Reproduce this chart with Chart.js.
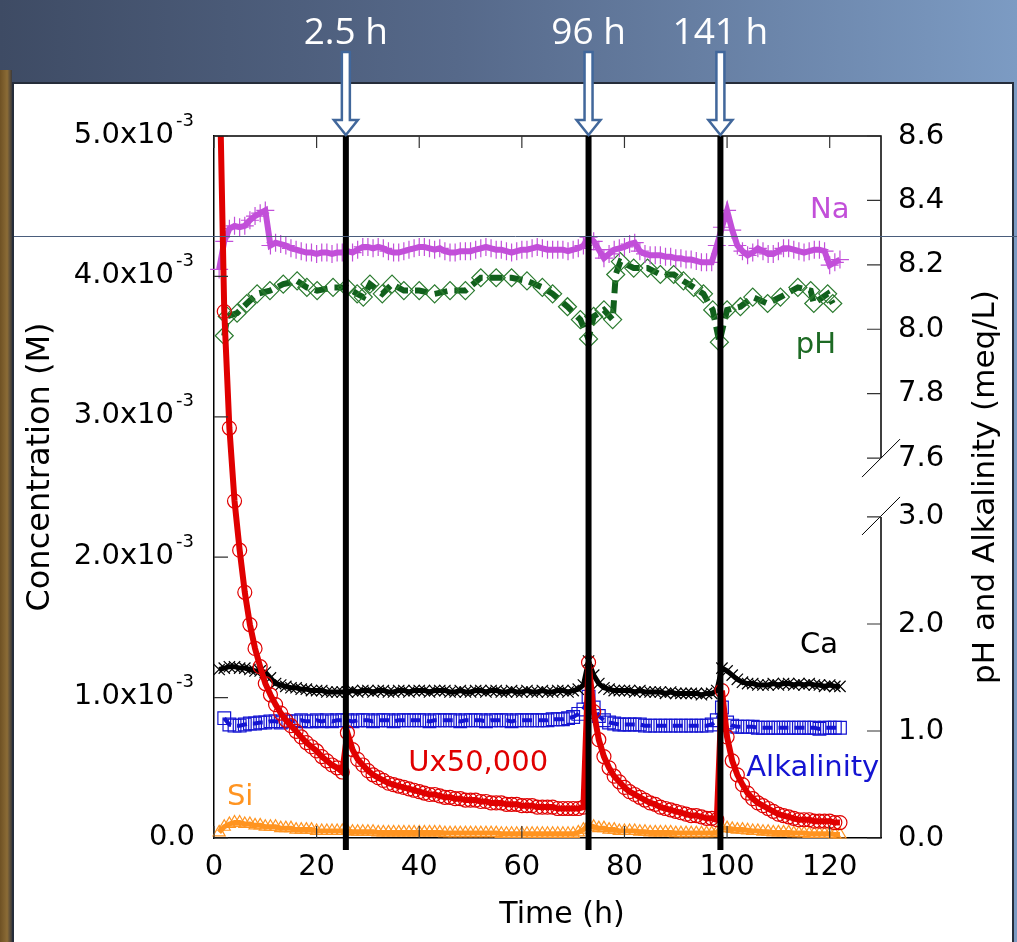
<!DOCTYPE html>
<html>
<head>
<meta charset="utf-8">
<title>Leaching run</title>
<script src="https://cdn.jsdelivr.net/npm/chart.js@4.4.1/dist/chart.umd.min.js"></script>
<style>
  html, body { margin: 0; padding: 0; background: #4a5a78; }
  canvas { display: block; }
</style>
</head>
<body>
<canvas id="leach-chart" width="1017" height="942"></canvas>
<script>
// Axis ticks
var hourTicks = [0, 20, 40, 60, 80, 100, 120];
var concTicks = [0, 1, 2, 3, 4, 5];                        // mM (x10^-3 M)
var rightTicks = [0.0, 1.0, 2.0, 3.0, 7.6, 7.8, 8.0, 8.2, 8.4, 8.6];

// Events marked with arrows
var eventHours = [25.7, 73.0, 98.7];
var eventLabels = ['2.5 h', '96 h', '141 h'];

// Hourly sampling times shared by the concentration series
var hours = [1, 2, 3, 4, 5, 6, 7, 8, 9, 10, 11, 12, 13, 14, 15, 16, 17, 18, 19, 20,
  21, 22, 23, 24, 25, 26, 27, 28, 29, 30, 31, 32, 33, 34, 35, 36, 37, 38, 39, 40,
  41, 42, 43, 44, 45, 46, 47, 48, 49, 50, 51, 52, 53, 54, 55, 56, 57, 58, 59, 60,
  61, 62, 63, 64, 65, 66, 67, 68, 69, 70, 71, 72, 73, 74, 75, 76, 77, 78, 79, 80,
  81, 82, 83, 84, 85, 86, 87, 88, 89, 90, 91, 92, 93, 94, 95, 96, 97, 98, 99, 100,
  101, 102, 103, 104, 105, 106, 107, 108, 109, 110, 111, 112, 113, 114, 115, 116, 117, 118, 119, 120,
  121, 122];

// U x 50,000 (mM)
var uValues = [5.6, 3.75, 2.92, 2.40, 2.05, 1.75, 1.52, 1.35, 1.22, 1.10, 1.02, 0.95, 0.89, 0.84, 0.80, 0.76, 0.72, 0.68, 0.65, 0.62,
  0.58, 0.55, 0.52, 0.50, 0.47, 0.75, 0.63, 0.56, 0.52, 0.48, 0.45, 0.43, 0.41, 0.39, 0.38, 0.37, 0.36, 0.35, 0.34, 0.33,
  0.32, 0.31, 0.31, 0.30, 0.29, 0.29, 0.28, 0.28, 0.27, 0.27, 0.27, 0.26, 0.26, 0.25, 0.25, 0.25, 0.24, 0.24, 0.24, 0.23,
  0.23, 0.23, 0.22, 0.22, 0.22, 0.22, 0.21, 0.21, 0.21, 0.21, 0.21, 0.22, 1.25, 0.90, 0.70, 0.58, 0.50, 0.44, 0.40, 0.36,
  0.33, 0.31, 0.29, 0.27, 0.25, 0.24, 0.22, 0.21, 0.20, 0.19, 0.18, 0.17, 0.16, 0.16, 0.15, 0.14, 0.14, 0.13, 1.05, 0.72,
  0.55, 0.45, 0.38, 0.32, 0.28, 0.25, 0.23, 0.21, 0.19, 0.17, 0.16, 0.15, 0.14, 0.13, 0.13, 0.13, 0.12, 0.12, 0.12, 0.12,
  0.11, 0.11];

// Na (mM)
var naValues = [4.05, 4.25, 4.34, 4.36, 4.35, 4.36, 4.40, 4.43, 4.45, 4.47, 4.22, 4.24, 4.23, 4.22, 4.20, 4.19, 4.18, 4.17, 4.17, 4.16,
  4.17, 4.17, 4.16, 4.17, 4.17, 4.18, 4.17, 4.19, 4.21, 4.21, 4.20, 4.21, 4.20, 4.18, 4.17, 4.17, 4.18, 4.19, 4.20, 4.21,
  4.21, 4.20, 4.19, 4.20, 4.18, 4.17, 4.17, 4.18, 4.18, 4.18, 4.19, 4.20, 4.21, 4.20, 4.19, 4.19, 4.18, 4.17, 4.18, 4.19,
  4.19, 4.20, 4.21, 4.20, 4.19, 4.19, 4.19, 4.19, 4.18, 4.19, 4.20, 4.22, 4.28, 4.25, 4.19, 4.13, 4.16, 4.19, 4.20, 4.21,
  4.23, 4.24, 4.18, 4.16, 4.15, 4.15, 4.15, 4.14, 4.14, 4.13, 4.13, 4.12, 4.12, 4.11, 4.10, 4.10, 4.10, 4.22, 4.35, 4.47,
  4.33, 4.22, 4.18, 4.15, 4.17, 4.20, 4.18, 4.16, 4.16, 4.18, 4.20, 4.20, 4.19, 4.18, 4.17, 4.18, 4.19, 4.19, 4.18, 4.08,
  4.10, 4.12];

// Ca (mM)
var caValues = [1.20, 1.21, 1.22, 1.22, 1.21, 1.21, 1.20, 1.19, 1.19, 1.18, 1.14, 1.10, 1.09, 1.08, 1.07, 1.07, 1.06, 1.06, 1.05, 1.05,
  1.05, 1.04, 1.04, 1.04, 1.04, 1.04, 1.05, 1.04, 1.05, 1.05, 1.04, 1.05, 1.05, 1.04, 1.04, 1.05, 1.05, 1.04, 1.05, 1.05,
  1.05, 1.04, 1.05, 1.05, 1.05, 1.04, 1.04, 1.05, 1.04, 1.04, 1.05, 1.05, 1.04, 1.05, 1.05, 1.04, 1.04, 1.05, 1.04, 1.04,
  1.05, 1.04, 1.04, 1.05, 1.04, 1.04, 1.05, 1.05, 1.04, 1.05, 1.06, 1.09, 1.26, 1.16, 1.10, 1.07, 1.06, 1.05, 1.05, 1.05,
  1.05, 1.04, 1.05, 1.04, 1.04, 1.04, 1.04, 1.03, 1.04, 1.03, 1.03, 1.03, 1.03, 1.03, 1.02, 1.03, 1.03, 1.05, 1.21, 1.19,
  1.16, 1.13, 1.11, 1.10, 1.10, 1.09, 1.09, 1.09, 1.10, 1.09, 1.10, 1.10, 1.09, 1.10, 1.09, 1.10, 1.09, 1.09, 1.08, 1.09,
  1.08, 1.08];

// Alkalinity (meq/L)
var alkValues = [null, 1.12, 1.06, 1.05, 1.05, 1.06, 1.07, 1.07, 1.08, 1.08, 1.09, 1.09, 1.08, 1.09, 1.09, 1.09, 1.10, 1.09, 1.09, 1.10,
  1.09, 1.10, 1.09, 1.10, 1.10, 1.10, 1.09, 1.10, 1.10, 1.10, 1.09, 1.10, 1.10, 1.10, 1.09, 1.10, 1.10, 1.10, 1.10, 1.10,
  1.10, 1.09, 1.10, 1.10, 1.10, 1.10, 1.10, 1.09, 1.10, 1.10, 1.10, 1.10, 1.09, 1.10, 1.10, 1.10, 1.10, 1.09, 1.10, 1.10,
  1.10, 1.10, 1.10, 1.10, 1.10, 1.11, 1.11, 1.11, 1.12, 1.13, 1.16, 1.20, 1.32, 1.22, 1.14, 1.10, 1.08, 1.07, 1.06, 1.06,
  1.06, 1.06, 1.06, 1.05, 1.05, 1.05, 1.05, 1.05, 1.05, 1.05, 1.05, 1.05, 1.05, 1.05, 1.05, 1.05, 1.06, 1.10, 1.22, 1.08,
  1.05, 1.04, 1.04, 1.04, 1.04, 1.03, 1.03, 1.03, 1.03, 1.03, 1.03, 1.03, 1.03, 1.03, 1.03, 1.03, 1.03, 1.02, 1.03, 1.03,
  1.03, 1.03];

// Si (mM)
var siValues = [0.04, 0.08, 0.10, 0.11, 0.11, 0.10, 0.10, 0.09, 0.09, 0.08, 0.08, 0.08, 0.07, 0.07, 0.07, 0.06, 0.06, 0.06, 0.06, 0.05,
  0.05, 0.05, 0.05, 0.05, 0.05, 0.05, 0.045, 0.045, 0.045, 0.045, 0.045, 0.04, 0.04, 0.04, 0.04, 0.04, 0.04, 0.04, 0.04, 0.04,
  0.04, 0.04, 0.04, 0.04, 0.035, 0.035, 0.035, 0.035, 0.035, 0.035, 0.035, 0.035, 0.035, 0.035, 0.035, 0.03, 0.03, 0.03, 0.03, 0.03,
  0.03, 0.03, 0.03, 0.03, 0.03, 0.03, 0.03, 0.03, 0.03, 0.03, 0.04, 0.06, 0.09, 0.08, 0.07, 0.07, 0.06, 0.06, 0.05, 0.05,
  0.05, 0.05, 0.045, 0.045, 0.04, 0.04, 0.04, 0.04, 0.04, 0.035, 0.035, 0.035, 0.035, 0.035, 0.035, 0.035, 0.035, 0.04, 0.07, 0.07,
  0.065, 0.06, 0.06, 0.055, 0.05, 0.05, 0.045, 0.045, 0.04, 0.04, 0.04, 0.04, 0.035, 0.035, 0.035, 0.03, 0.03, 0.03, 0.03, 0.03,
  0.025, 0.025];

// pH, sampled less often
var phHours = [2.0, 2.6, 4.5, 6.4, 8.4, 10.9, 13.5, 16.2, 18.1, 20.1, 23.2, 25.9, 27.9, 29.1, 30.4, 32.8, 34.7, 37, 40, 43, 46,
  49, 52, 55, 58, 61, 64, 66, 68.9, 71.4, 73, 74, 76, 77.7, 78.3, 79.2, 81.8, 84.5, 87, 89.6, 91.5, 93.5, 95.4, 97.2,
  98.5, 100, 102.6, 105, 107.9, 110.4, 113.8, 116.3, 116.9, 119.6, 120.6];
var phValues = [7.98, 8.04, 8.05, 8.08, 8.11, 8.12, 8.14, 8.15, 8.13, 8.12, 8.13, 8.13, 8.11, 8.10, 8.14, 8.11, 8.14, 8.12, 8.12, 8.11, 8.12,
  8.12, 8.16, 8.16, 8.16, 8.15, 8.13, 8.11, 8.07, 8.03, 7.97, 8.04, 8.06, 8.03, 8.17, 8.21, 8.19, 8.19, 8.17, 8.17, 8.15, 8.13, 8.11, 8.06,
  7.96, 8.06, 8.07, 8.10, 8.08, 8.10, 8.13, 8.12, 8.08, 8.11, 8.08];

// Right axis is broken between 3.0 and 7.6: the pH part is stretched to fit above
var LOW_TOP = 3.0, HIGH_BOTTOM = 7.6, GAP = 0.55, HIGH_STRETCH = 3.01;
function brokenAxis(v) {
  return v <= LOW_TOP ? v : LOW_TOP + GAP + (v - HIGH_BOTTOM) * HIGH_STRETCH;
}

function pairs(xs, ys, f) {
  return xs.map(function (x, i) { return { x: x, y: ys[i] === null ? null : f(ys[i]) }; });
}
function milli(v) { return v / 1000; }

var FONT = 'DejaVu Sans';

// In-plot labels (data coordinates)
var seriesLabels = [
  { text: 'Na', color: '#c24fd9', x: 120, y: 4.47e-3, axis: 'y' },
  { text: 'pH', color: '#1d6a24', x: 117.3, y: brokenAxis(7.95), axis: 'y2' },
  { text: 'Ca', color: '#000000', x: 117.9, y: 1.37e-3, axis: 'y' },
  { text: 'Ux50,000', color: '#e00000', x: 51.5, y: 0.53e-3, axis: 'y' },
  { text: 'Alkalinity', color: '#1414d2', x: 116.7, y: brokenAxis(0.65), axis: 'y2' },
  { text: 'Si', color: '#ff9421', x: 5.1, y: 0.29e-3, axis: 'y' }
];

var slideFrame = {
  id: 'slideFrame',
  beforeDraw: function (chart) {
    var ctx = chart.ctx, w = chart.width, h = chart.height;
    ctx.save();
    var sky = ctx.createLinearGradient(0, 0, w, 0);
    sky.addColorStop(0, '#3e4b64');
    sky.addColorStop(0.45, '#56698a');
    sky.addColorStop(1, '#7c9bc3');
    ctx.fillStyle = sky;
    ctx.fillRect(0, 0, w, h);
    var wood = ctx.createLinearGradient(0, 0, 12, 0);
    wood.addColorStop(0, '#6e5124');
    wood.addColorStop(0.6, '#8c6c36');
    wood.addColorStop(1, '#3c3a3c');
    ctx.fillStyle = wood;
    ctx.fillRect(0, 70, 12, h - 70);
    ctx.fillStyle = '#ffffff';
    ctx.fillRect(14, 83, 998, h - 83);
    ctx.strokeStyle = '#262d3a';
    ctx.lineWidth = 2;
    ctx.strokeRect(13, 83, 1000, h - 81);
    ctx.restore();
  },
  afterDatasetsDraw: function (chart) {
    var ctx = chart.ctx, a = chart.chartArea;
    var xs = chart.scales.x, yl = chart.scales.y, yr = chart.scales.y2;
    ctx.save();

    // top border and the broken right border
    var upperEnd = yr.getPixelForValue(brokenAxis(HIGH_BOTTOM));
    var lowerEnd = yr.getPixelForValue(brokenAxis(LOW_TOP));
    ctx.strokeStyle = '#000';
    ctx.lineWidth = 1.5;
    ctx.beginPath();
    ctx.moveTo(a.left, a.top); ctx.lineTo(a.right, a.top);
    ctx.lineTo(a.right, upperEnd);
    ctx.moveTo(a.right, lowerEnd); ctx.lineTo(a.right, a.bottom);
    ctx.stroke();
    ctx.lineWidth = 1;
    ctx.beginPath();
    ctx.moveTo(a.right - 19, upperEnd + 19); ctx.lineTo(a.right + 19, upperEnd - 19);
    ctx.moveTo(a.right - 19, lowerEnd + 18); ctx.lineTo(a.right + 19, lowerEnd - 20);
    ctx.stroke();

    // inward tick marks
    ctx.strokeStyle = '#333';
    ctx.lineWidth = 1.2;
    ctx.beginPath();
    hourTicks.forEach(function (t) {
      var px = xs.getPixelForValue(t);
      ctx.moveTo(px, a.bottom); ctx.lineTo(px, a.bottom - 12);
      ctx.moveTo(px, a.top); ctx.lineTo(px, a.top + 12);
    });
    concTicks.forEach(function (c) {
      var py = yl.getPixelForValue(milli(c));
      ctx.moveTo(a.left, py); ctx.lineTo(a.left + 14, py);
    });
    rightTicks.forEach(function (v) {
      var py = yr.getPixelForValue(brokenAxis(v));
      ctx.moveTo(a.right, py); ctx.lineTo(a.right - 14, py);
    });
    ctx.stroke();

    // left tick labels with a raised exponent
    ctx.fillStyle = '#000';
    ctx.textBaseline = 'middle';
    concTicks.forEach(function (c) {
      var py = yl.getPixelForValue(milli(c));
      ctx.textAlign = 'right';
      ctx.font = '29px "' + FONT + '"';
      if (c === 0) {
        ctx.fillText('0.0', 195, py - 1);
      } else {
        ctx.fillText(c.toFixed(1) + 'x10', 174, py - 1);
        ctx.textAlign = 'left';
        ctx.font = '18px "' + FONT + '"';
        ctx.fillText('-3', 176, py - 15);
      }
    });

    // axis titles
    ctx.textAlign = 'center';
    ctx.font = '30px "' + FONT + '"';
    ctx.fillText('Time (h)', 562, 915);
    ctx.save();
    ctx.font = '32px "' + FONT + '"';
    ctx.translate(41, 467);
    ctx.rotate(-Math.PI / 2);
    ctx.fillText('Concentration (M)', 0, 0);
    ctx.restore();
    ctx.save();
    ctx.font = '31px "' + FONT + '"';
    ctx.translate(986, 487);
    ctx.rotate(-Math.PI / 2);
    ctx.fillText('pH and Alkalinity (meq/L)', 0, 0);
    ctx.restore();

    // series labels
    ctx.font = '29px "' + FONT + '"';
    seriesLabels.forEach(function (s) {
      var sc = chart.scales[s.axis];
      ctx.fillStyle = s.color;
      ctx.fillText(s.text, xs.getPixelForValue(s.x), sc.getPixelForValue(s.y));
    });

    // event lines and arrows
    eventHours.forEach(function (t, i) {
      var px = xs.getPixelForValue(t);
      ctx.strokeStyle = '#000';
      ctx.lineWidth = 6;
      ctx.beginPath();
      ctx.moveTo(px, a.top); ctx.lineTo(px, a.bottom + 12);
      ctx.stroke();

      ctx.fillStyle = '#ffffff';
      ctx.strokeStyle = '#41679b';
      ctx.lineWidth = 2.5;
      ctx.beginPath();
      ctx.moveTo(px - 4, 52);
      ctx.lineTo(px + 4, 52);
      ctx.lineTo(px + 4, 120);
      ctx.lineTo(px + 12, 120);
      ctx.lineTo(px, a.top - 1);
      ctx.lineTo(px - 12, 120);
      ctx.lineTo(px - 4, 120);
      ctx.closePath();
      ctx.fill();
      ctx.stroke();

      ctx.fillStyle = '#ffffff';
      ctx.font = '37px "Open Sans"';
      ctx.textAlign = 'center';
      ctx.textBaseline = 'alphabetic';
      ctx.fillText(eventLabels[i], px, 44);
      ctx.font = '29px "' + FONT + '"';
      ctx.textBaseline = 'middle';
    });
    ctx.restore();
  },
  afterDraw: function (chart) {
    var ctx = chart.ctx;
    ctx.save();
    ctx.strokeStyle = '#4a5d7c';
    ctx.lineWidth = 1;
    ctx.beginPath();
    ctx.moveTo(14, 236.5); ctx.lineTo(chart.width, 236.5);
    ctx.stroke();
    ctx.restore();
  }
};

function series(label, xs, ys, f, axis, color, style, extra) {
  var ds = {
    label: label,
    data: pairs(xs, ys, f),
    yAxisID: axis,
    borderColor: color,
    pointBorderColor: color,
    pointBackgroundColor: 'rgba(0,0,0,0)',
    pointStyle: style,
    pointRadius: 7,
    pointBorderWidth: 1.2,
    borderWidth: 5,
    tension: 0,
    clip: false
  };
  for (var k in extra) { ds[k] = extra[k]; }
  return ds;
}

new Chart(document.getElementById('leach-chart'), {
  type: 'line',
  data: {
    datasets: [
      series('Si', hours, siValues, milli, 'y', '#ff9421', 'triangle', { order: 6, pointRadius: 7 }),
      series('Alkalinity', hours, alkValues, brokenAxis, 'y2', '#1414d2', 'rect', { order: 5, borderDash: [10, 6], borderWidth: 4, pointRadius: 9 }),
      series('Ca', hours, caValues, milli, 'y', '#000000', 'crossRot', { order: 4, pointRadius: 8 }),
      series('pH', phHours, phValues, brokenAxis, 'y2', '#11601c', 'rectRot', { order: 3, borderDash: [13, 7], borderWidth: 6, pointRadius: 9, pointBorderColor: '#2a7a2e' }),
      series('Na', hours, naValues, milli, 'y', '#c24fd9', 'cross', { order: 2, pointRadius: 9, borderWidth: 6 }),
      series('Ux50,000', hours, uValues, milli, 'y', '#e00000', 'circle', { order: 1, borderWidth: 6, clip: 0 })
    ]
  },
  options: {
    responsive: false,
    devicePixelRatio: 1,
    animation: false,
    events: [],
    layout: { padding: { top: 136, left: 0, right: 0, bottom: 0 } },
    plugins: { legend: { display: false }, tooltip: { enabled: false } },
    scales: {
      x: {
        type: 'linear',
        min: 0,
        max: 130,
        afterBuildTicks: function (s) { s.ticks = hourTicks.map(function (v) { return { value: v }; }); },
        afterFit: function (s) { s.height = 104; },
        grid: { display: false, drawTicks: false },
        border: { display: true, color: '#000', width: 1.5 },
        ticks: { color: '#000', padding: 12, maxRotation: 0, font: { family: FONT, size: 29 } }
      },
      y: {
        position: 'left',
        min: 0,
        max: 5e-3,
        afterBuildTicks: function (s) { s.ticks = concTicks.map(function (v) { return { value: milli(v) }; }); },
        afterFit: function (s) { s.width = 214; },
        grid: { display: false, drawTicks: false },
        border: { display: true, color: '#000', width: 1.5 },
        ticks: { display: false }
      },
      y2: {
        position: 'right',
        min: 0,
        max: brokenAxis(8.6),
        afterBuildTicks: function (s) { s.ticks = rightTicks.map(function (v) { return { value: brokenAxis(v) }; }); },
        afterFit: function (s) { s.width = 136; },
        grid: { display: false, drawTicks: false },
        border: { display: false },
        ticks: {
          color: '#000',
          padding: 17,
          font: { family: FONT, size: 29 },
          callback: function (value, index) { return rightTicks[index].toFixed(1); }
        }
      }
    }
  },
  plugins: [slideFrame]
});
</script>
</body>
</html>
